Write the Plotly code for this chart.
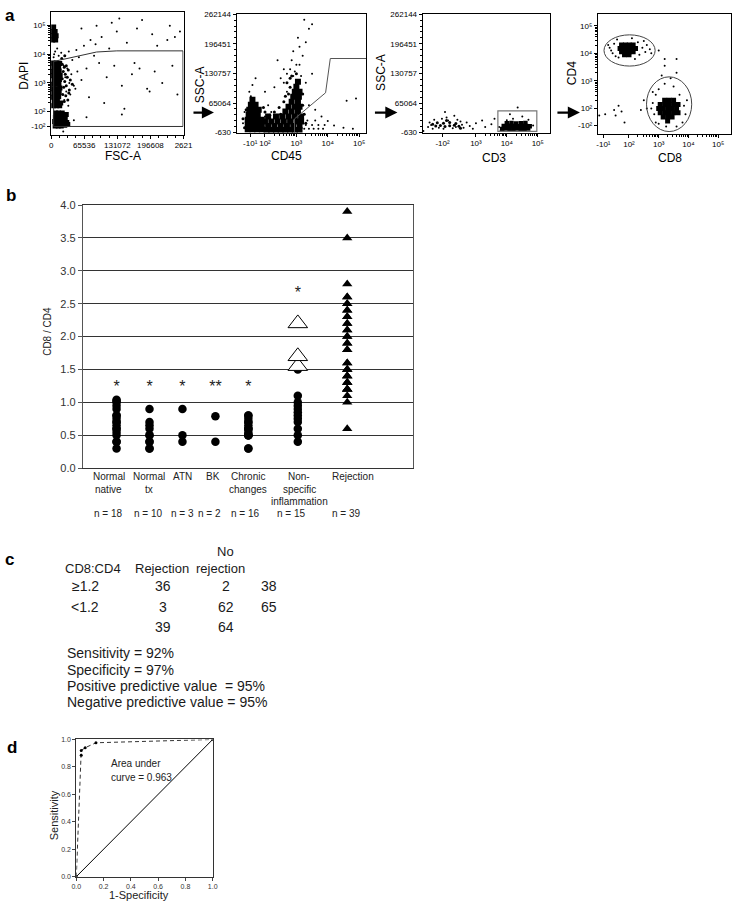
import math
import plotly.graph_objects as go

W, H = 741, 908
FONT = "Liberation Sans, Arial, sans-serif"

# ======================= DATA =======================
# ---- panel a, plot 1: FSC-A (linear) vs DAPI (display decades) ----
p1_dense_fsc = [4000, 10000, 17000, 5000, 11000, 15000, 3000, 9000, 16000,
                4500, 10500, 18000, 5500, 12000, 16500, 4000, 9500, 15500,
                3500, 10000, 17500, 5000, 11500, 16000, 4000, 9000, 15000,
                6000, 12500, 19000, 5000, 11000, 17000,
                8000, 14000, 20000, 27000, 33000, 7000, 13000, 19000, 25000, 31000,
                8500, 15000, 21000, 28000, 9000, 14500, 22000, 30000,
                3000, 9000, 4000, 10000, 2500, 8000, 5000]
p1_dense_dapi = [3.7, 3.7, 3.68, 3.55, 3.55, 3.52, 3.4, 3.4, 3.42,
                 3.25, 3.25, 3.27, 3.1, 3.1, 3.12, 2.95, 2.95, 2.97,
                 2.8, 2.8, 2.82, 2.65, 2.65, 2.67, 2.5, 2.5, 2.52,
                 2.35, 2.35, 2.3, 2.2, 2.2, 2.2,
                 1.5, 1.5, 1.5, 1.52, 1.55, 1.65, 1.65, 1.65, 1.67, 1.62,
                 1.8, 1.8, 1.8, 1.78, 1.95, 1.95, 1.95, 1.9,
                 4.5, 4.5, 4.65, 4.65, 4.8, 4.8, 4.95]
p1_mid_fsc = [22000, 26000, 30000, 24000, 28000, 34000, 22000, 27000, 32000, 38000,
              25000, 30000, 36000, 23000, 29000, 35000, 42000, 26000, 33000, 21000, 27000]
p1_mid_dapi = [3.65, 3.55, 3.6, 3.4, 3.3, 3.45, 3.15, 3.05, 3.2, 3.1,
               2.85, 2.9, 2.75, 2.6, 2.55, 2.65, 2.95, 2.35, 2.4, 3.85, 3.95]
p1_sparse_fsc = [25000, 32000, 40000, 28000, 36000, 45000, 52000, 30000, 38000, 60000,
                 26000, 34000, 48000, 70000, 42000, 55000, 85000, 95000, 110000, 125000,
                 140000, 160000, 175000, 190000, 205000, 220000, 240000, 250000, 65000, 78000,
                 100000, 130000, 150000, 170000, 200000, 230000, 120000, 90000, 60000, 180000,
                 210000, 245000, 5000, 8000, 12000, 6000, 15000, 20000, 35000, 50000,
                 75000, 105000, 145000, 165000, 195000, 115000, 135000, 88000, 235000, 255000,
                 30000, 45000, 140000, 70000, 24000]
p1_sparse_dapi = [3.6, 3.5, 3.3, 3.2, 3.0, 2.9, 3.4, 2.7, 2.6, 3.1,
                  2.4, 2.2, 2.8, 3.5, 3.8, 3.9, 3.95, 3.7, 3.2, 3.6,
                  2.9, 3.3, 3.5, 2.8, 3.4, 3.0, 3.6, 2.6, 4.3, 4.5,
                  4.6, 4.8, 4.4, 4.9, 4.7, 4.5, 5.1, 5.0, 4.9, 5.2,
                  4.3, 4.6, 3.9, 4.1, 4.2, 4.0, 3.95, 4.05, 4.1, 4.15,
                  2.5, 2.3, 2.1, 3.7, 2.7, 4.2, 5.25, 4.35, 5.0, 4.8,
                  1.6, 1.7, 1.9, 1.8, 1.3]
p1_gate_fsc = [5000, 30000, 60000, 90000, 130000, 261000, 261000, 5000, 5000]
p1_gate_dapi = [3.75, 3.85, 3.97, 4.08, 4.12, 4.12, 1.48, 1.48, 3.75]

# ---- panel a, plot 2: CD45 (display decades) vs SSC-A ----
p2_dense_cd45 = [1.45, 1.6, 1.75, 1.9, 1.45, 1.6, 1.75, 1.9, 1.45, 1.6, 1.75, 1.9,
                 1.48, 1.62, 1.77, 1.5, 1.65, 1.8, 1.55, 1.7, 1.6,
                 2.05, 2.2, 2.35, 2.5, 2.65, 2.8, 2.95, 3.1,
                 2.1, 2.3, 2.5, 2.7, 2.9, 3.1,
                 2.0, 2.2, 2.4, 2.6, 2.8, 3.0, 3.15,
                 2.1, 2.35, 2.55, 2.75, 2.95, 3.15,
                 2.65, 2.85, 3.05, 2.75, 2.95, 3.1, 2.85, 3.05, 2.9, 3.08, 2.95, 3.1, 3.0, 3.05]
p2_dense_ssc = [6000, 6000, 6000, 6000, 17000, 17000, 17000, 17000, 28000, 28000, 28000, 28000,
                39000, 39000, 39000, 50000, 50000, 50000, 61000, 61000, 72000,
                5000, 5000, 5000, 5000, 5000, 5000, 5000, 5000,
                14000, 14000, 14000, 14000, 14000, 14000,
                24000, 24000, 24000, 24000, 24000, 24000, 24000,
                35000, 35000, 35000, 35000, 35000, 35000,
                46000, 46000, 46000, 57000, 57000, 57000, 68000, 68000, 79000, 79000,
                90000, 90000, 101000, 112000]
p2_mid_cd45 = [2.3, 2.45, 2.6, 2.75, 2.5, 2.65, 2.8, 2.7, 2.85, 3.2, 3.25,
               3.3, 1.35, 1.3, 1.4, 2.0, 1.95, 2.15, 3.2, 3.0, 2.8]
p2_mid_ssc = [45000, 55000, 68000, 85000, 40000, 80000, 100000, 110000, 125000, 60000, 40000,
              20000, 10000, 30000, 50000, 45000, 55000, 38000, 85000, 130000, 120000]
p2_sparse_cd45 = [3.1, 3.2, 2.9, 3.3, 3.05, 3.4, 3.25, 3.5, 2.8, 2.5,
                  2.3, 2.0, 1.5, 1.6, 1.7, 1.55, 2.1, 2.2, 2.0, 3.4,
                  3.6, 3.8, 4.0, 4.2, 4.5, 4.8, 4.6, 4.9, 2.4, 2.7,
                  3.3, 3.5, 1.3, 1.35, 2.2, 2.6,
                  3.25, 3.4, 3.55, 3.7, 3.85, 3.3, 3.5, 3.7, 3.9, 3.35, 3.6,
                  2.7, 2.9, 3.0, 2.85, 3.1, 2.95, 2.6, 3.15]
p2_sparse_ssc = [150000, 170000, 180000, 200000, 210000, 230000, 250000, 240000, 140000, 120000,
                 100000, 90000, 90000, 105000, 120000, 80000, 60000, 45000, 35000, 60000,
                 50000, 35000, 25000, 15000, 10000, 8000, 70000, 75000, 160000, 90000,
                 110000, 130000, 20000, 45000, 25000, 140000,
                 8000, 8000, 8000, 8000, 8000, 16000, 16000, 16000, 16000, 26000, 26000,
                 130000, 125000, 150000, 160000, 190000, 135000, 110000, 125000]
p2_gate_cd45 = [2.94, 2.94, 3.93, 4.08, 5.22]
p2_gate_ssc = [-630, 29800, 87800, 163800, 163800]

# ---- panel a, plot 3: CD3 (display decades) vs SSC-A ----
p3_dense_cd3 = [3.85, 3.97, 4.09, 4.21, 4.33, 4.45, 4.57, 4.69,
                3.9, 4.02, 4.14, 4.26, 4.38, 4.5, 4.62, 4.74,
                4.0, 4.15, 4.3, 4.45, 4.6]
p3_dense_ssc = [7500, 8500, 8000, 7500, 8500, 8000, 7500, 8500,
                14000, 13500, 14500, 14000, 13500, 14500, 14000, 13500,
                20000, 20500, 19500, 20000, 20500]
p3_mid_cd3 = [1.7, 1.85, 2.0, 2.15, 2.3, 2.45, 1.75, 1.95, 2.15, 2.35, 1.6, 2.05, 2.5]
p3_mid_ssc = [14000, 15000, 13000, 14500, 15500, 13500, 21000, 20000, 22000, 19500, 18000, 26000, 9000]
p3_sparse_cd3 = [1.45, 1.5, 1.6, 1.65, 1.9, 2.1, 2.25, 2.4, 2.55, 2.6,
                 2.7, 2.8, 2.05, 1.8, 2.5, 1.55, 2.35, 1.95, 3.0, 3.2,
                 3.3, 3.5, 3.6, 2.9, 4.2, 4.5, 4.1, 4.35, 4.7, 4.85,
                 3.75, 4.0, 4.6, 3.8, 1.3, 1.25, 2.0, 2.3]
p3_sparse_ssc = [12000, 22000, 8000, 28000, 30000, 26000, 9000, 28000, 17000, 10000,
                 22000, 14000, 33000, 10000, 24000, 16000, 12000, 8000, 20000, 26000,
                 12000, 18000, 30000, 8000, 30000, 35000, 40000, 55000, 28000, 15000,
                 12000, 27000, 5000, 4000, 3000, 1000, 45000, 37000]
p3_gate_cd3 = [3.71, 4.97]
p3_gate_ssc = [2200, 47800]

# ---- panel a, plot 4: CD8 vs CD4 (display decades) ----
p4_dense_cd8 = [1.75, 1.88, 2.01, 2.14, 1.7, 1.83, 1.96, 2.09, 2.22, 1.75, 1.88, 2.01, 2.14, 1.85, 2.0,
                3.2, 3.35, 3.5, 3.05, 3.2, 3.35, 3.5, 3.65, 3.0, 3.15, 3.3, 3.45, 3.6,
                3.05, 3.2, 3.35, 3.5, 3.65, 3.15, 3.3, 3.45, 3.3]
p4_dense_cd4 = [4.3, 4.3, 4.3, 4.3, 4.18, 4.18, 4.18, 4.18, 4.18, 4.06, 4.06, 4.06, 4.06, 3.95, 3.95,
                2.3, 2.3, 2.3, 2.15, 2.15, 2.15, 2.15, 2.15, 2.0, 2.0, 2.0, 2.0, 2.0,
                1.85, 1.85, 1.85, 1.85, 1.85, 1.7, 1.7, 1.7, 1.55]
p4_sparse_cd8 = [1.35, 1.45, 1.5, 1.55, 2.3, 2.45, 2.55, 2.6, 2.7, 1.6, 2.2, 1.4, 2.35, 1.65, 2.5, 2.75, 1.3, 2.1,
                 2.8, 2.85, 2.9, 3.0, 3.2, 3.5, 3.7, 3.85, 3.9, 3.8, 3.6, 3.0, 2.75, 3.4, 3.6, 3.1, 3.95, 3.25,
                 1.2, 1.5, 1.65, 1.75, 1.55, 1.0, 2.6, 2.4, 2.8, 3.2, 3.0, 3.2, 3.6, 2.5, 2.9, 1.85]
p4_sparse_cd4 = [4.2, 4.0, 4.35, 3.9, 4.4, 4.2, 4.05, 4.3, 4.15, 4.5, 3.8, 4.1, 3.95, 3.85, 4.45, 4.0, 4.3, 4.55,
                 2.2, 1.8, 2.5, 2.7, 2.9, 2.8, 2.5, 2.1, 1.8, 1.5, 1.35, 1.45, 2.0, 3.1, 3.3, 3.2, 2.3, 1.35,
                 1.8, 1.95, 2.1, 1.9, 1.75, 1.75, 2.0, 1.95, 2.6, 3.55, 4.1, 3.8, 3.8, 2.3, 1.5, 1.5]
p4_gate1_cd8 = [1.16, 2.88]
p4_gate1_cd4 = [3.54, 4.67]
p4_gate2_cd8 = [2.59, 4.11]
p4_gate2_cd4 = [1.17, 3.15]

# ---- panel b ----
cat_label_lines = [["Normal", "native"], ["Normal", "tx"], ["ATN"], ["BK"],
                   ["Chronic", "changes"], ["Non-", "specific", "inflammation"], ["Rejection"]]
n_counts = [18, 10, 3, 2, 16, 15, 39]
normal_native = [0.3, 0.4, 0.4, 0.5, 0.55, 0.6, 0.6, 0.65, 0.7, 0.7, 0.75, 0.8, 0.8, 0.9, 0.95, 1.0, 1.02, 1.04]
normal_tx = [0.3, 0.3, 0.4, 0.4, 0.5, 0.5, 0.6, 0.65, 0.7, 0.9]
atn = [0.4, 0.5, 0.9]
bk = [0.4, 0.79]
chronic = [0.3, 0.3, 0.5, 0.5, 0.5, 0.55, 0.6, 0.6, 0.6, 0.65, 0.7, 0.7, 0.75, 0.8, 0.8, 0.5]
nonspecific_circles = [0.4, 0.5, 0.6, 0.7, 0.75, 0.8, 0.85, 0.9, 0.95, 1.0, 1.1, 1.5]
nonspecific_open = [1.55, 1.7, 2.2]
rejection = [3.9, 3.5, 2.8, 2.6, 2.6, 2.5, 2.5, 2.4, 2.4, 2.3, 2.3, 2.2, 2.2, 2.1, 2.1, 2.0, 2.0,
             1.9, 1.9, 1.8, 1.8, 1.6, 1.6, 1.5, 1.5, 1.5, 1.4, 1.4, 1.4, 1.3, 1.3, 1.3,
             1.2, 1.2, 1.2, 1.2, 1.1, 1.0, 0.6]
star_text = ["*", "*", "*", "**", "*", "*"]
star_y = [1.22, 1.22, 1.22, 1.22, 1.22, 2.64]

# ---- panel c ----
row_labels = ["\u22651.2", "<1.2"]
rejection_counts = [36, 3]
no_rejection_counts = [2, 62]
row_totals = [38, 65]
col_totals = [39, 64]
stat_lines = ["Sensitivity = 92%", "Specificity = 97%",
              "Positive predictive value \u00a0= 95%", "Negative predictive value = 95%"]

# ---- panel d ----
roc_fpr = [0.0, 0.036, 0.036, 0.065, 0.144, 1.0]
roc_tpr = [0.0, 0.885, 0.92, 0.94, 0.976, 1.0]
auc_text = ["Area under", "curve = 0.963"]

# ======================= LAYOUT HELPERS =======================
def ax_dom(x0, x1):
    return [x0 / W, x1 / W]


def ay_dom(y0, y1):
    return [1 - y1 / H, 1 - y0 / H]


annotations = []


def txt(x, y, s, size, color="black", bold=False, angle=0, xanchor="center"):
    annotations.append(dict(x=x / W, y=1 - y / H, xref="paper", yref="paper",
                            text=("<b>%s</b>" % s) if bold else s, showarrow=False,
                            textangle=angle, xanchor=xanchor, yanchor="middle",
                            font=dict(size=size, family=FONT, color=color)))


def arrow(x_tail, x_tip, y):
    annotations.append(dict(x=x_tip / W, y=1 - y / H, xref="paper", yref="paper",
                            ax=x_tail - x_tip, ay=0, axref="pixel", ayref="pixel",
                            text="", showarrow=True, arrowhead=2, arrowsize=1.1,
                            arrowwidth=2.2, arrowcolor="black"))


fig = go.Figure()


def pts(xa, ya, xs, ys, size, color="black", symbol="circle", line=0):
    fig.add_trace(go.Scatter(x=xs, y=ys, mode="markers", xaxis=xa, yaxis=ya, hoverinfo="skip",
                             marker=dict(size=size, color=color, symbol=symbol,
                                         line=dict(width=line, color="black"))))


def logminor(lo, hi):
    return [d + math.log10(k) for d in range(lo, hi) for k in range(2, 10)]


# ---- panel a traces ----
pts("x", "y", p1_sparse_fsc, p1_sparse_dapi, 2)
pts("x", "y", p1_mid_fsc, p1_mid_dapi, 3)
pts("x", "y", p1_dense_fsc, p1_dense_dapi, 5, symbol="square")
fig.add_trace(go.Scatter(x=p1_gate_fsc, y=p1_gate_dapi, mode="lines", xaxis="x", yaxis="y",
                         line=dict(color="#333", width=1), hoverinfo="skip"))

pts("x2", "y2", p2_sparse_cd45, p2_sparse_ssc, 2)
pts("x2", "y2", p2_mid_cd45, p2_mid_ssc, 3)
pts("x2", "y2", p2_dense_cd45, p2_dense_ssc, 6, symbol="square")
fig.add_trace(go.Scatter(x=p2_gate_cd45, y=p2_gate_ssc, mode="lines", xaxis="x2", yaxis="y2",
                         line=dict(color="#555", width=1), hoverinfo="skip"))

pts("x3", "y3", p3_sparse_cd3, p3_sparse_ssc, 2)
pts("x3", "y3", p3_mid_cd3, p3_mid_ssc, 3)
pts("x3", "y3", p3_dense_cd3, p3_dense_ssc, 4.5, symbol="square")

pts("x4", "y4", p4_sparse_cd8, p4_sparse_cd4, 2)
pts("x4", "y4", p4_dense_cd8, p4_dense_cd4, 5, symbol="square")

shapes = [
    dict(type="rect", xref="x3", yref="y3", x0=p3_gate_cd3[0], x1=p3_gate_cd3[1],
         y0=p3_gate_ssc[0], y1=p3_gate_ssc[1], line=dict(color="#777", width=1.2)),
    dict(type="circle", xref="x4", yref="y4", x0=p4_gate1_cd8[0], x1=p4_gate1_cd8[1],
         y0=p4_gate1_cd4[0], y1=p4_gate1_cd4[1], line=dict(color="#444", width=1)),
    dict(type="circle", xref="x4", yref="y4", x0=p4_gate2_cd8[0], x1=p4_gate2_cd8[1],
         y0=p4_gate2_cd4[0], y1=p4_gate2_cd4[1], line=dict(color="#444", width=1)),
]

# ---- panel b traces ----
cat_pos = [0, 1, 2, 3, 4, 5.5, 7]
circle_groups = [normal_native, normal_tx, atn, bk, chronic, nonspecific_circles]
for i, vals in enumerate(circle_groups):
    pts("x5", "y5", [cat_pos[i]] * len(vals), vals, 8.5)
pts("x5", "y5", [cat_pos[5]] * len(nonspecific_open), nonspecific_open, 17,
    color="white", symbol="triangle-up", line=1)
pts("x5", "y5", [cat_pos[6]] * len(rejection), rejection, 9, symbol="triangle-up")
fig.add_trace(go.Scatter(x=cat_pos[:len(star_text)], y=star_y, mode="text", text=star_text,
                         xaxis="x5", yaxis="y5", hoverinfo="skip",
                         textfont=dict(size=16, family=FONT, color="#222")))

# ---- panel d traces ----
fig.add_trace(go.Scatter(x=[0, 1], y=[0, 1], mode="lines", xaxis="x6", yaxis="y6",
                         line=dict(color="black", width=1), hoverinfo="skip"))
fig.add_trace(go.Scatter(x=roc_fpr, y=roc_tpr, mode="lines+markers", xaxis="x6", yaxis="y6",
                         line=dict(color="#333", width=1, dash="4px,3px"),
                         marker=dict(size=3, color="black"), hoverinfo="skip"))

# ======================= AXES =======================
tf8 = dict(size=8, family=FONT, color="black")
base = dict(showline=True, linecolor="black", linewidth=1, mirror=True, ticks="outside",
            ticklen=3, tickwidth=1, tickcolor="black", showgrid=False, zeroline=False,
            tickfont=tf8, fixedrange=True, tickmode="array", tickangle=0)

# decade labels written with Unicode superscript digits
decade_lbl = {1: "10\u00b9", 2: "10\u00b2", 3: "10\u00b3", 4: "10\u2074", 5: "10\u2075"}
neg_lbl = {1: "-10\u00b9", 2: "-10\u00b2"}
ssc_ticks = [-630, 65064, 130757, 196451, 262144]

layout_axes = dict(
    xaxis=dict(base, domain=ax_dom(47, 182), range=[0, 262144], anchor="y",
               tickvals=[0, 65536, 131072, 196608, 262144],
               ticktext=["0", "65536", "131072", "196608", "2621"],
               minor=dict(ticks="outside", ticklen=2, tickcolor="black", dtick=16384, tick0=0)),
    yaxis=dict(base, domain=ay_dom(6, 130.5), range=[1.19, 5.48], anchor="x",
               tickvals=[1.48, 2, 3, 4, 5],
               ticktext=[neg_lbl[2], decade_lbl[2], decade_lbl[3], decade_lbl[4], decade_lbl[5]],
               minor=dict(ticks="outside", ticklen=2, tickcolor="black", tickvals=logminor(2, 5))),
    xaxis2=dict(base, domain=ax_dom(236, 368), range=[1.094, 5.219], anchor="y2",
                tickvals=[1.53, 2, 3, 4, 5],
                ticktext=[neg_lbl[1], decade_lbl[2], decade_lbl[3], decade_lbl[4], decade_lbl[5]],
                minor=dict(ticks="outside", ticklen=2, tickcolor="black", tickvals=logminor(2, 5))),
    yaxis2=dict(base, domain=ay_dom(8.3, 128.3), range=[-630, 262144], anchor="x2",
                tickvals=ssc_ticks, ticktext=[str(v) for v in ssc_ticks],
                minor=dict(ticks="outside", ticklen=2, tickcolor="black", dtick=13138.7, tick0=-630)),
    xaxis3=dict(base, domain=ax_dom(425.7, 555), range=[1.276, 5.381], anchor="y3",
                tickvals=[1.92, 3, 4, 5],
                ticktext=[neg_lbl[2], decade_lbl[3], decade_lbl[4], decade_lbl[5]],
                minor=dict(ticks="outside", ticklen=2, tickcolor="black", tickvals=logminor(3, 5))),
    yaxis3=dict(base, domain=ay_dom(8.3, 128.3), range=[-630, 262144], anchor="x3",
                tickvals=ssc_ticks, ticktext=[str(v) for v in ssc_ticks],
                minor=dict(ticks="outside", ticklen=2, tickcolor="black", dtick=13138.7, tick0=-630)),
    xaxis4=dict(base, domain=ax_dom(604.3, 740), range=[0.954, 5.432], anchor="y4",
                tickvals=[1.14, 2, 3, 4, 5],
                ticktext=[neg_lbl[1], decade_lbl[2], decade_lbl[3], decade_lbl[4], decade_lbl[5]],
                minor=dict(ticks="outside", ticklen=2, tickcolor="black", tickvals=logminor(2, 5))),
    yaxis4=dict(base, domain=ay_dom(8.3, 129.3), range=[1.096, 5.418], anchor="x4",
                tickvals=[1.39, 2, 3, 4, 5],
                ticktext=[neg_lbl[2], decade_lbl[2], decade_lbl[3], decade_lbl[4], decade_lbl[5]],
                minor=dict(ticks="outside", ticklen=2, tickcolor="black", tickvals=logminor(2, 5))),
    xaxis5=dict(showline=True, linecolor="#333", linewidth=1, mirror=True, ticks="",
                showticklabels=False, showgrid=False, zeroline=False, fixedrange=True,
                domain=ax_dom(79.3, 416), range=[-1.024, 9.0], anchor="y5"),
    yaxis5=dict(showline=True, linecolor="#555", linewidth=1, mirror=True, ticks="outside",
                ticklen=4, tickcolor="#555", showgrid=True, gridcolor="#333", gridwidth=1.3,
                zeroline=False, fixedrange=True, domain=ay_dom(201.7, 468.3), range=[0, 4],
                tickmode="linear", tick0=0, dtick=0.5, tickformat=".1f", anchor="x5",
                tickfont=dict(size=11, family=FONT, color="#333")),
    xaxis6=dict(base, domain=ax_dom(72.7, 211.7), range=[0, 1], anchor="y6", tickmode="linear",
                tick0=0, dtick=0.2, tickformat=".1f", tickcolor="#444", linecolor="#333",
                tickfont=dict(size=7, family=FONT, color="#333")),
    yaxis6=dict(base, domain=ay_dom(743.3, 882.3), range=[0, 1], anchor="x6", tickmode="linear",
                tick0=0, dtick=0.2, tickformat=".1f", tickcolor="#444", linecolor="#333",
                tickfont=dict(size=7, family=FONT, color="#333")),
)

# ======================= TEXT =======================
# panel letters
txt(5, 10, "a", 17, bold=True)
txt(6, 192, "b", 17, bold=True)
txt(5, 561, "c", 17, bold=True)
txt(7, 751, "d", 17, bold=True)

# panel a axis titles
txt(120, 152, "FSC-A", 12)
txt(19, 71, "DAPI", 12, angle=-90)
txt(287, 152, "CD45", 12)
txt(199, 80, "SSC-A", 12, angle=-90)
txt(498, 154, "CD3", 12)
txt(383, 67, "SSC-A", 12, angle=-90)
txt(678, 154, "CD8", 12)
txt(578, 68, "CD4", 12, angle=-90)
arrow(191, 213, 108)
arrow(376, 400, 108)
arrow(562, 586, 108)

# panel b labels
label_px = [106, 147, 181, 212, 248, 300, 355]
n_px = [106, 146.5, 181, 208, 245, 292.5, 348]
line_y = [477, 489.5, 502]
for i, lines in enumerate(cat_label_lines):
    for j, s in enumerate(lines):
        txt(label_px[i], line_y[j], s, 10, color="#222")
    txt(n_px[i], 514.5, "n = %d" % n_counts[i], 10, color="#222")
txt(43, 330, "CD8 / CD4", 10, color="#222", angle=-90)

# panel c table
cc = "#1a1a1a"
txt(225, 553, "No", 13, color=cc)
txt(90, 570, "CD8:CD4", 13, color=cc)
txt(160, 570, "Rejection", 13, color=cc)
txt(220, 570, "rejection", 13, color=cc)
row_y = [588, 609]
for i in range(2):
    txt(82, row_y[i], row_labels[i], 14, color=cc)
    txt(161, row_y[i], str(rejection_counts[i]), 14, color=cc)
    txt(225, row_y[i], str(no_rejection_counts[i]), 14, color=cc)
    txt(269, row_y[i], str(row_totals[i]), 14, color=cc)
txt(161, 629, str(col_totals[0]), 14, color=cc)
txt(225, 629, str(col_totals[1]), 14, color=cc)
for k, s in enumerate(stat_lines):
    txt(61.5, [656, 672.5, 689, 705][k], s, 14, color=cc, xanchor="left")

# panel d text
txt(106, 768, auc_text[0], 10, color="#222", xanchor="left")
txt(106, 782, auc_text[1], 10, color="#222", xanchor="left")
txt(137, 901, "1-Specificity", 11, color="#222")
txt(50, 820, "Sensitivity", 11, color="#222", angle=-90)

fig.update_layout(width=W, height=H, autosize=False, margin=dict(l=0, r=0, t=0, b=0),
                  paper_bgcolor="white", plot_bgcolor="white", showlegend=False,
                  font=dict(family=FONT, color="black"), annotations=annotations,
                  shapes=shapes, **layout_axes)

fig.write_html("out.html", config={"displayModeBar": False},
               post_script="document.body.style.margin='0px';document.body.style.overflow='hidden';")
